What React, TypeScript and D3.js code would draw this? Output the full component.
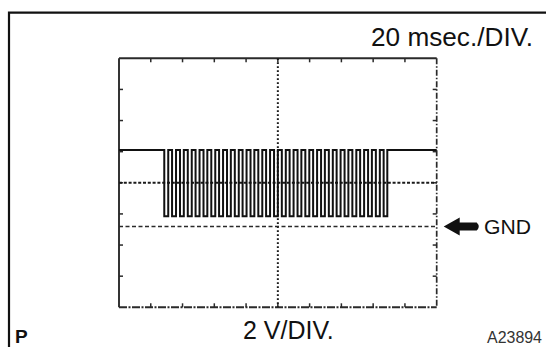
import React from "react";
import * as d3 from "d3";

// ---- data ----
const TIME_TICKS = [0, 20, 40, 60, 80, 100, 120, 140, 160, 180, 200]; // ms, 20 ms/DIV
const VOLT_TICKS = [-5.2, -3.2, -1.2, 0.8, 2.8, 4.8, 6.8, 8.8, 10.8]; // V, 2 V/DIV
const GND_LEVEL = [0];
const SIGNAL_LEVELS = [4.9, 0.65]; // high, low
// edge times (ms): first edge falls, then alternates, last edge rises
const EDGE_TIMES = [
  28.5, 31.0, 33.4, 35.9, 38.4, 40.8, 43.3, 45.8, 48.2, 50.7,
  53.2, 55.6, 58.1, 60.6, 63.0, 65.5, 68.0, 70.4, 72.9, 75.4,
  77.8, 80.3, 82.8, 85.2, 87.7, 90.2, 92.6, 95.1, 97.6, 100.0,
  102.5, 105.0, 107.4, 109.9, 112.4, 114.8, 117.3, 119.8, 122.2, 124.7,
  127.2, 129.6, 132.1, 134.6, 137.0, 139.5, 142.0, 144.4, 146.9, 149.4,
  151.8, 154.3, 156.8, 159.2, 161.7, 164.2, 166.6, 168.9,
];
const LABELS = {
  time: "20 msec./DIV.",
  volt: "2 V/DIV.",
  gnd: "GND",
  id: "A23894",
  corner: "P",
};

const W = 546;
const H = 347;
const PL = 119, PR = 436.7, PT = 58.3, PB = 307.3;

export default function App() {
  const x = d3.scaleLinear().domain([0, 200]).range([PL, PR]);
  const y = d3.scaleLinear().domain([-5.2, 10.8]).range([PB, PT]);
  const [HI, LO] = SIGNAL_LEVELS;

  const pts: [number, number][] = [[0, HI]];
  EDGE_TIMES.forEach((t, i) => pts.push([t, i % 2 === 0 ? LO : HI]));
  pts.push([200, HI]);
  const line = d3
    .line<[number, number]>()
    .x((d) => x(d[0]))
    .y((d) => y(d[1]))
    .curve(d3.curveStepAfter);

  const midV = VOLT_TICKS[4];
  const midT = TIME_TICKS[5];
  const gy = y(GND_LEVEL[0]);
  const font = "Liberation Sans, Arial, sans-serif";
  const ink = "#111";
  const frame = "#2a2a2a";

  return (
    <svg
      width={W}
      height={H}
      style={{ position: "absolute", left: 0, top: 0, background: "#fff" }}
      fontFamily={font}
    >
      <rect width={W} height={H} fill="#fff" />
      {/* outer frame */}
      <path d={`M9,${H} V12.7 H${W}`} fill="none" stroke={ink} strokeWidth={2.2} />

      {/* plot frame */}
      <line x1={PL} x2={PL} y1={PT} y2={PB} stroke={frame} strokeWidth={1.9} />
      <line x1={PL} x2={PR} y1={PT} y2={PT} stroke={frame} strokeWidth={1.9} />
      <line x1={PL} x2={PR} y1={PB} y2={PB} stroke={frame} strokeWidth={1.9} strokeDasharray="8,1.5,2,1.5" />
      <line x1={PR} x2={PR} y1={PT} y2={PB} stroke={frame} strokeWidth={1.7} strokeDasharray="6,2,1.5,2" />

      {/* ticks */}
      {TIME_TICKS.slice(1, -1).map((t) => (
        <g key={"t" + t}>
          <line x1={x(t)} x2={x(t)} y1={PT} y2={PT + 4} stroke={frame} strokeWidth={1.5} />
          <line x1={x(t)} x2={x(t)} y1={PB} y2={PB - 4} stroke={frame} strokeWidth={1.5} />
        </g>
      ))}
      {VOLT_TICKS.slice(1, -1).map((v) => (
        <g key={"v" + v}>
          <line x1={PL} x2={PL + 4} y1={y(v)} y2={y(v)} stroke={frame} strokeWidth={1.5} />
          <line x1={PR} x2={PR - 4} y1={y(v)} y2={y(v)} stroke={frame} strokeWidth={1.5} />
        </g>
      ))}

      {/* center cross */}
      <line x1={x(midT)} x2={x(midT)} y1={PT} y2={PB} stroke="#1a1a1a" strokeWidth={2} strokeDasharray="1.8,2.2" />
      <line x1={PL} x2={PR} y1={y(midV)} y2={y(midV)} stroke="#1a1a1a" strokeWidth={1.9} strokeDasharray="3,1.8" />

      {/* GND line */}
      <line x1={PL} x2={PR} y1={gy} y2={gy} stroke="#2a2a2a" strokeWidth={1.5} strokeDasharray="4,2.5" />

      {/* signal */}
      <path d={line(pts) || ""} fill="none" stroke={ink} strokeWidth={2} strokeLinejoin="miter" />

      {/* GND arrow */}
      <path
        d={`M${PR + 7},${gy} L${PR + 23},${gy - 9} L${PR + 23},${gy - 4} L${PR + 40},${gy - 4} Q${PR + 44},${gy} ${PR + 40},${gy + 4} L${PR + 23},${gy + 4} L${PR + 23},${gy + 9} Z`}
        fill={ink}
      />
      <text x={484} y={gy + 7.5} fontSize={21} fill={ink} textLength={47} lengthAdjust="spacingAndGlyphs">
        {LABELS.gnd}
      </text>

      {/* labels */}
      <text x={371} y={46} fontSize={25} fill={ink} textLength={162} lengthAdjust="spacingAndGlyphs">
        {LABELS.time}
      </text>
      <text x={243} y={339} fontSize={25} fill={ink}>
        {LABELS.volt}
      </text>
      <text x={487} y={343} fontSize={17} fill="#333" textLength={55} lengthAdjust="spacingAndGlyphs">
        {LABELS.id}
      </text>
      <text x={15} y={343} fontSize={19} fontWeight="bold" fill={ink}>
        {LABELS.corner}
      </text>
    </svg>
  );
}
